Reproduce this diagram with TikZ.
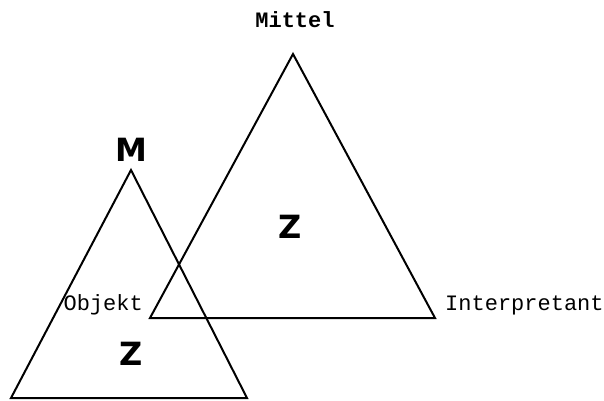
\documentclass[tikz,border=0pt]{standalone}
\usepackage{fontspec}
\setsansfont{DejaVu Sans}
\setmonofont{Liberation Mono}
\begin{document}
\begin{tikzpicture}[x=1pt,y=-1pt]
				\useasboundingbox (0,0) rectangle (604,400);
				\tikzset{seite/.style={line width=2pt, line join=miter},
					ecke/.style={inner sep=0pt, font=\ttfamily\fontsize{22}{22}\selectfont},
					zeichen/.style={inner sep=0pt, font=\sffamily\bfseries\fontsize{32}{32}\selectfont}}
				% grosses Dreieck
				\coordinate (gM) at (293,54);
				\coordinate (gO) at (150,318);
				\coordinate (gI) at (435,318);
				% kleines Dreieck
				\coordinate (kM) at (131,170);
				\coordinate (kO) at (11,398);
				\coordinate (kI) at (247,398);
				\draw[seite] (gM) -- (gO) -- (gI) -- cycle;
				\draw[seite] (kM) -- (kO) -- (kI) -- cycle;
				\node[ecke, font=\ttfamily\bfseries\fontsize{22}{22}\selectfont] (mittel) at (295,20) {Mittel};
				\node[ecke, anchor=west] (interp) at (445,305) {Interpretant};
				\node[ecke, anchor=east] (objekt) at (143,305) {Objekt};
				\node[zeichen] (m) at (131,150) {M};
				\node[zeichen] (zg) at (290,227) {Z};
				\node[zeichen] (zk) at (131,354) {Z};
			\end{tikzpicture}
\end{document}
